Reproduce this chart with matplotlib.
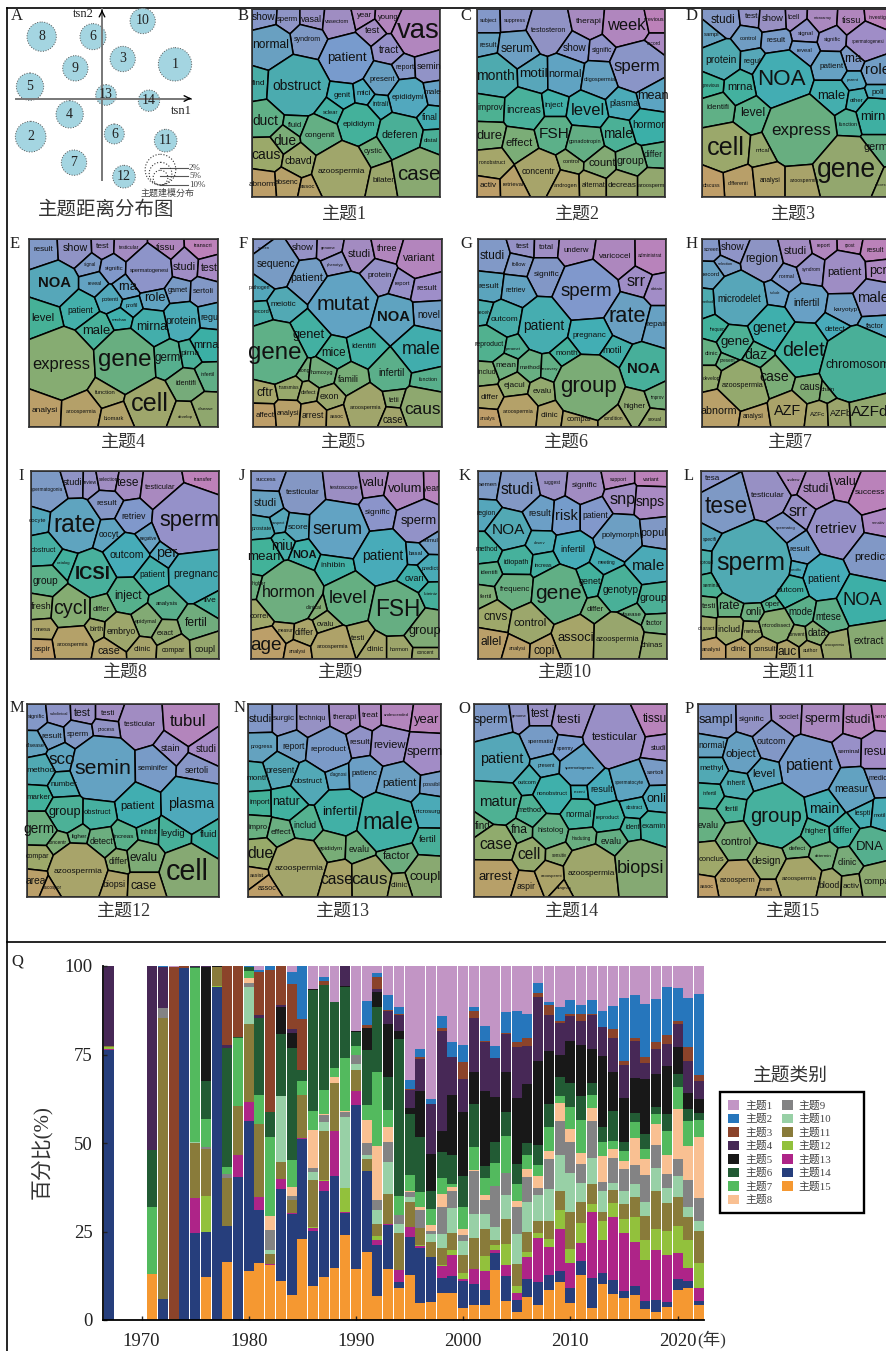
import numpy as np
import matplotlib
matplotlib.use("Agg")
import matplotlib.pyplot as plt
from matplotlib.font_manager import FontProperties
from matplotlib.patches import Circle, Patch, Rectangle
from matplotlib.textpath import TextPath

SERIF = ['Liberation Serif', 'Noto Sans CJK SC']
plt.rcParams['font.family'] = SERIF

# topic map (panel A): x, y, radius read at 3x zoom
bubble_names = ["1", "2", "3", "4", "5", "6", "6", "7", "8", "9", "10", "11", "12", "13", "14"]
bubble_x = [525, 92, 368, 209, 90, 279, 343, 222, 125, 226, 428, 497, 372, 318, 447]
bubble_y = [193, 410, 177, 343, 260, 110, 402, 488, 110, 205, 63, 422, 530, 285, 302]
bubble_r = [50, 46, 38, 41, 41, 39, 30, 38, 44, 38, 38, 34, 34, 31, 32]
size_names = ["2%", "5%", "10%"]
size_r = [22, 34, 46]

# word cells: word, x, y, text width, read at 3x zoom inside each box
box_b = (35, 27, 600, 590)
words_b = [("show",70,52,70),("sperm",142,57,62),("vasal",215,57,60),("vasectom",292,65,72),("year",372,47,45),("young",445,52,60),("vas",535,92,125),("test",398,90,45),("syndrom",200,118,78),("normal",90,135,105),("patient",320,175,115),("tract",447,150,60),("report",495,203,55),("semin",566,200,72),("present",427,238,75),("find",56,250,38),("obstruct",170,257,145),("genit",307,287,50),("mici",372,280,40),("epididymi",505,293,95),("male",578,277,50),("intrali",420,314,45),("duct",75,362,75),("sclear",272,336,45),("fluid",165,377,40),("epididym",355,372,95),("final",570,352,45),("deferen",480,403,105),("distal",574,422,40),("due",133,422,65),("congenit",240,407,90),("cystic",400,455,55),("caus",77,465,85),("cbavd",175,482,80),("azoospermia",302,513,140),("bilater",430,540,65),("case",535,522,125),("abnorm",65,552,80),("absenc",140,547,70),("assoc",203,560,45)]
box_c = (20, 27, 585, 590)
words_c = [("subject",55,62,50),("suppress",133,60,65),("testosteron",235,90,105),("therapi",355,65,75),("week",468,75,115),("previous",552,58,60),("result",55,135,50),("serum",140,147,95),("show",313,145,70),("signific",395,152,60),("sperm",500,200,135),("record",552,130,40),("month",75,227,110),("motil",190,223,80),("normal",285,222,95),("oligospermia",390,238,95),("mean",548,288,90),("improv",60,323,75),("increas",160,328,100),("inject",252,316,55),("level",353,332,95),("plasma",462,310,85),("dure",57,407,75),("effect",147,427,80),("FSH",252,400,85),("gonadotropin",345,425,95),("male",445,402,85),("hormor",535,375,95),("differ",550,463,55),("concentr",205,515,100),("control",303,483,50),("count",395,487,80),("group",480,483,80),("nonobstruct",65,488,80),("activ",55,555,50),("retrieval",130,553,60),("androgen",285,557,70),("alternat",370,555,70),("decreas",457,555,85),("azoosperm",545,555,80)]
box_d = (697, 27, 1261, 590)
words_d = [("studi",760,60,70),("test",845,50,40),("show",908,55,65),("tcell",972,52,35),("microarray",1060,55,55),("tissu",1145,60,55),("investig",1225,52,50),("sampl",725,103,45),("control",835,115,50),("signal",1008,100,45),("signific",1087,118,50),("spermatogenesi",1195,125,95),("protein",755,180,90),("regul",847,183,50),("result",918,122,55),("reveal",1005,150,45),("rna",1150,178,50),("role",1225,210,70),("patient",1085,200,70),("parent",1150,240,35),("NOA",935,238,140),("mrna",812,262,75),("previous",725,255,50),("male",1085,287,80),("level",848,337,70),("identifi",745,322,65),("mirna",1220,350,95),("other",1160,300,40),("poll",1225,277,35),("function",1137,372,55),("express",993,392,175),("cell",768,442,105),("mical",880,452,40),("germ",1220,440,70),("gene",1130,510,170),("differenti",805,550,60),("analysi",900,540,60),("azoospermia",1005,540,85),("discuss",725,555,50),("process",1235,555,40)]
box_e = (87, 27, 655, 590)
words_e = [("result",130,58,58),("show",225,53,75),("test",307,50,40),("testicular",387,53,60),("tissu",498,52,55),("transcri",610,47,55),("signal",270,102,35),("signific",342,116,55),("spermatogenesi",448,120,115),("studi",553,110,65),("test",628,115,50),("NOA",165,160,95),("reveal",285,160,40),("rna",382,170,55),("gamet",535,180,60),("sertoli",610,183,60),("patient",242,240,75),("potenti",330,207,50),("role",465,205,60),("profil",395,226,35),("protein",545,272,90),("regu",628,262,50),("level",130,265,65),("male",290,303,80),("mechan",360,270,45),("mirna",455,292,90),("mrna",620,343,75),("express",183,402,170),("gene",375,390,155),("germ",503,382,75),("pirna",570,370,55),("infertil",623,432,40),("identifi",560,460,60),("function",317,488,60),("cell",450,520,105),("develop",557,560,45),("disease",618,537,45),("analysi",133,540,75),("azoospermia",243,545,90),("biomark",343,565,60)]
box_f = (760, 27, 1327, 590)
words_f = [("screen",793,53,35),("show",908,52,65),("genome",985,55,45),("studi",1078,72,65),("three",1162,55,60),("variant",1258,83,95),("sequenc",830,103,115),("patient",920,145,95),("phenotyp",1007,105,50),("protein",1140,135,70),("report",1208,160,45),("result",1282,175,60),("pathogen",780,173,60),("mutat",1032,222,155),("meiotic",852,223,75),("novel",1287,255,65),("record",785,245,45),("NOA",1180,262,95),("genet",928,315,95),("gene",825,367,155),("mice",1002,368,70),("identifi",1093,350,70),("male",1265,357,110),("infertil",1175,428,75),("function",1285,447,55),("clong",912,422,35),("homozyg",967,428,65),("famili",1047,447,60),("cftr",797,487,48),("transmiss",868,472,60),("defect",925,488,45),("exon",990,500,55),("azoospermia",1097,533,95),("tetii",1185,512,30),("caus",1268,537,105),("case",1180,568,60),("affect",795,556,55),("analysi",865,550,65),("arrest",938,556,65),("assoc",1010,558,40)]
box_g = (85, 27, 648, 590)
words_g = [("studi",128,77,72),("test",218,50,40),("total",290,52,42),("underw",378,60,75),("varicocel",497,78,95),("administrat",600,77,70),("follow",207,102,42),("signific",290,132,75),("sperm",410,183,150),("srr",560,155,55),("obtain",620,178,35),("result",118,170,60),("retriev",198,180,60),("rate",532,260,105),("repair",620,283,60),("receiv",105,248,40),("outcom",163,267,80),("patient",283,288,120),("pregnanc",420,317,100),("reproduct",118,342,85),("paramet",190,355,45),("month",352,370,65),("motil",487,362,55),("NOA",580,415,95),("includ",112,428,52),("mean",168,407,60),("method",240,412,60),("recovery",302,415,50),("ejacul",195,465,62),("evalu",276,483,55),("group",415,470,165),("differ",120,502,52),("higher",553,528,65),("improv",622,503,40),("analys",115,565,45),("azoospermia",205,545,90),("clinic",300,555,52),("compar",387,567,75),("condition",492,565,55),("sexual",615,567,40)]
box_h = (757, 27, 1321, 590)
words_h = [("screen",787,58,45),("show",850,52,70),("region",937,87,95),("studi",1037,63,65),("report",1122,47,40),("rpost",1200,45,30),("result",1278,60,50),("selection",828,102,45),("record",785,132,50),("normal",1010,140,45),("syndrom",1085,117,55),("patient",1185,127,100),("pcr",1285,122,50),("microdelet",870,208,130),("include",975,190,30),("infertil",1070,218,75),("karyotyp",1187,237,70),("male",1270,205,90),("method",775,215,35),("frequen",805,298,45),("genet",960,293,100),("detect",1155,297,60),("factor",1275,288,55),("gene",858,335,85),("clinic",785,370,40),("daz",920,375,65),("delet",1062,362,125),("present",835,392,45),("case",975,440,85),("chromosom",1225,405,190),("develop",785,445,50),("azoospermia",880,467,125),("caus",1080,470,60),("chain",1135,478,40),("abnorm",807,542,105),("analysi",910,558,60),("AZF",1015,542,80),("AZFc",1105,553,45),("AZFb",1175,550,65),("AZFd",1260,545,110)]
box_i = (92, 33, 658, 597)
words_i = [("spermatogonia",140,90,95),("studi",218,67,55),("review",270,68,40),("selection",325,58,55),("tese",385,70,65),("testicular",480,82,90),("transfer",612,58,55),("oocyte",112,183,50),("rate",222,195,120),("result",320,130,60),("retriev",400,170,70),("sperm",568,183,175),("oocyt",327,225,60),("negative",445,236,50),("obstruct",130,272,75),("outcom",380,285,100),("per",500,280,60),("catalog",190,310,40),("patient",457,345,75),("pregnanc",587,342,130),("ICSI",277,343,100),("group",135,362,75),("inject",383,408,80),("live",630,423,35),("fresh",122,440,60),("cycl",210,447,95),("differ",305,448,50),("analysis",500,430,65),("fertil",590,490,65),("epidymal",437,485,65),("embryo",363,515,85),("birth",290,510,40),("exact",497,520,50),("mnesa",127,508,50),("azoospermia",218,553,95),("case",325,573,65),("clinic",427,568,50),("compar",522,573,70),("coupl",615,568,60),("aspir",125,568,50)]
box_j = (752, 33, 1317, 597)
words_j = [("success",798,58,60),("testicular",907,98,100),("testoscope",1032,83,85),("valu",1120,68,65),("volum",1215,87,100),("year",1295,85,50),("studi",795,130,65),("signific",1133,157,75),("sperm",1255,182,105),("suspect",835,190,40),("score",895,203,60),("serum",1012,208,145),("prostate",783,207,60),("mean",790,290,95),("miu",845,258,60),("NOA",912,285,70),("inhibin",997,318,70),("patient",1147,288,120),("basal",1248,280,40),("stimul",1292,243,45),("predict",1290,326,50),("ovari",1243,357,55),("higher",775,372,40),("hormon",867,397,155),("level",1045,417,110),("FSH",1192,448,125),("luteiniz",1292,402,40),("correl",778,470,55),("clinical",942,443,45),("ovalu",975,493,50),("group",1275,512,95),("measur",855,513,45),("differ",913,517,55),("testi",1075,537,40),("age",797,558,90),("analysi",890,575,50),("azoospermia",997,560,95),("clinic",1125,570,50),("hormon",1197,570,55),("concent",1275,578,50)]
box_k = (85, 33, 650, 597)
words_k = [("semen",115,75,55),("studi",203,90,95),("suggest",307,68,50),("signific",403,78,75),("support",505,58,50),("variant",602,58,50),("snp",518,118,75),("snps",600,125,85),("region",110,162,55),("result",270,162,65),("risk",350,168,65),("patient",437,168,75),("NOA",175,210,96),("polymorph",512,228,110),("popul",610,218,75),("observ",268,250,35),("infertil",370,270,70),("method",110,270,65),("idiopath",198,307,75),("increas",280,317,50),("meeting",470,308,50),("male",595,317,95),("identifi",118,338,50),("genet",420,365,65),("frequenc",197,390,90),("gene",325,402,135),("genotyp",510,390,105),("fertil",108,410,35),("group",608,415,80),("differ",437,450,50),("cnvs",138,470,70),("control",240,488,95),("disease",543,463,60),("factor",612,490,50),("allel",125,545,60),("associ",378,535,105),("azoospermia",502,538,130),("chinas",605,558,65),("analysi",202,567,50),("copi",283,572,60)]
box_l = (753, 33, 1317, 597)
words_l = [("tesa",787,57,45),("tese",830,140,125),("testicular",952,107,100),("underw",1030,60,40),("studi",1097,87,75),("valu",1187,67,65),("success",1260,97,90),("srr",1045,155,55),("spermatog",1007,205,60),("retriev",1158,207,120),("sensitiv",1285,188,40),("specifi",780,238,40),("result",1050,270,60),("predict",1265,290,100),("sperm",903,310,200),("sproud",770,307,40),("specific",1037,330,40),("patient",1120,358,95),("outcom",1022,393,80),("seminal",785,377,50),("rate",838,437,60),("onli",910,455,45),("oper",968,433,45),("NOA",1238,423,115),("mode",1053,455,70),("mtese",1135,470,75),("testi",778,440,40),("charact",770,507,50),("includ",838,508,65),("method",908,516,50),("microdissect",980,497,85),("convent",1040,525,50),("data",1100,518,55),("azoospermia",1155,556,60),("extract",1257,543,90),("analysi",785,570,55),("clinic",865,570,45),("consult",945,570,65),("auc",1010,575,55),("author",1080,572,45)]
box_m = (80, 28, 657, 605)
words_m = [("signific",107,65,50),("subclinical",175,58,55),("test",245,55,50),("testi",323,55,40),("testicular",420,90,95),("tubul",565,80,105),("sperm",232,118,65),("process",317,105,50),("result",155,125,60),("stain",512,160,55),("studi",620,162,60),("disease",105,152,55),("sco",185,193,75),("semin",307,222,165),("seminifer",458,220,90),("sertoli",590,228,70),("method",120,228,80),("number",190,270,80),("marker",115,307,70),("patient",412,332,100),("plasma",572,328,135),("group",195,352,95),("obstruct",292,353,80),("germ",115,402,90),("ligher",237,423,45),("increas",370,425,60),("inhibit",448,413,50),("leydig",517,415,70),("fluid",625,418,50),("concentr",170,443,55),("detect",305,440,70),("compar",113,485,70),("differ",355,498,55),("evalu",430,487,80),("azoospermia",233,530,145),("cell",560,530,120),("biopsi",342,568,65),("case",430,572,75),("area",105,557,60),("ascospor",155,578,55)]
box_n = (745, 28, 1323, 605)
words_n = [("studi",783,72,65),("surgic",853,72,65),("techniqu",938,72,80),("therapi",1035,67,70),("treat",1112,63,50),("undescended",1190,62,75),("year",1280,75,75),("progress",785,155,65),("report",880,155,65),("reproduct",985,165,105),("result",1080,142,60),("review",1170,150,95),("sperm",1275,172,105),("present",842,228,85),("obstruct",925,260,85),("diagnosi",1015,240,50),("patienc",1095,237,75),("patient",1198,265,100),("month",775,250,65),("possibl",1295,270,50),("natur",860,322,80),("import",780,323,60),("infertil",1020,352,100),("male",1165,382,145),("microsurg",1283,348,80),("includ",915,390,65),("impro",775,397,55),("effect",842,413,60),("fertil",1282,433,50),("due",782,475,75),("epididym",992,460,70),("evalu",1077,463,60),("factor",1190,482,80),("azoospermia",897,520,145),("case",1010,553,95),("caus",1110,552,105),("coupl",1275,545,90),("clinic",1197,570,50),("assist",772,540,40),("assoc",802,580,55)]
box_o = (73, 28, 652, 605)
words_o = [("sperm",125,75,100),("genome",208,63,45),("test",272,58,55),("testi",357,75,70),("testicular",495,127,135),("tissu",615,72,70),("spermatid",272,140,75),("spermy",347,160,50),("studi",627,160,45),("patient",155,192,125),("present",290,212,50),("spermatogenes",390,218,90),("sertoli",618,232,50),("outcom",233,262,55),("nonobstruct",308,297,90),("recent",390,292,35),("result",455,285,65),("spermatocyte",540,263,85),("onli",620,313,55),("matur",147,322,110),("method",240,347,70),("normal",388,357,75),("reproduct",475,367,70),("abstract",555,338,50),("find",100,392,45),("fna",208,405,50),("histolog",302,407,75),("hisduting",395,430,55),("identi",550,398,45),("examin",612,395,70),("evalu",485,440,60),("case",138,447,95),("cell",238,477,65),("sensitiv",328,480,45),("azoospermia",425,535,140),("biopsi",572,520,135),("arrest",137,545,100),("aspir",230,573,55),("azoospermi",307,543,65),("diagnos",345,578,45)]
box_p = (745, 28, 1322, 605)
words_p = [("sampl",798,75,100),("signific",907,73,75),("societ",1018,67,60),("sperm",1120,72,105),("studi",1225,75,75),("serv",1295,65,35),("normal",785,152,75),("object",875,177,90),("outcom",965,140,85),("seminal",1198,170,65),("result",1285,172,85),("patient",1082,212,140),("methyl",785,220,70),("level",942,237,65),("measur",1205,282,100),("medic",1285,252,55),("infertil",780,297,40),("inherit",860,267,55),("fertil",848,343,40),("group",980,365,150),("main",1125,342,85),("lespti",1240,355,45),("motil",1290,360,35),("evalu",775,392,60),("higher",1097,410,65),("differ",1180,405,60),("control",860,442,90),("DNA",1260,455,80),("defect",1042,460,50),("determin",1120,482,50),("conclus",785,492,75),("clinic",1195,503,55),("design",950,498,85),("azoosperm",865,557,105),("azoospermia",1050,550,105),("assoc",772,575,40),("stream",950,582,40),("blood",1140,570,60),("activ",1205,573,50),("compar",1285,560,85)]

# yearly shares (%), stacked bottom to top: topics 15, 14, ... 1
years = [1967] + list(range(1971, 2023))
y1967 = [0,76.4,.2,.4,.5,0,0,0,0,0,0,22.5,0,0,0]
y1971 = [12.9,0,0,0,0,0,0,0,19.1,16.1,0,51.9,0,0,0]
y1972 = [0,5.8,.2,0,79.5,0,2.6,0,.2,0,0,11.5,0,.3,0]
y1973 = [0,0,0,0,.2,0,0,0,0,0,0,0,99.6,0,.2]
y1974 = [0,99.4,0,0,0,0,0,0,0,0,0,0,.5,.1,0]
y1975 = [0,24.5,10,0,15.6,.2,0,0,49,.4,0,.3,0,0,0]
y1976 = [12.2,12.6,0,10.1,13.3,0,.6,0,7.8,10.7,32,.4,0,0,0]
y1977 = [0,94.1,0,.3,5.2,0,0,0,0,0,.3,0,0,.1,0]
y1978 = [16.5,10.1,0,0,13.4,0,1.2,0,1.9,33.7,0,1,22.1,.1,0]
y1979 = [0,40.3,6.4,0,13.7,0,0,0,19.3,.2,0,0,20,.1,0]
y1980 = [13.9,42.2,5.5,0,21.9,10.7,1.1,1.4,1.9,1.2,0,0,0,.2,0]
y1981 = [16,15,3.7,0,20.6,0,0,0,8.3,21.7,0,.8,12.1,.6,1.1]
y1982 = [15.6,0,.2,0,2.7,1.1,5.9,3.7,22.5,6.9,0,0,40,1.2,0]
y1983 = [10.9,26.2,2.6,0,5,18.6,0,0,0,17.6,7.5,.5,11.1,0,0]
y1984 = [7.1,22.7,.3,0,3.9,0,1.1,2.5,7.6,31.7,4.1,1.2,12.5,3.4,1.8]
y1985 = [22.9,28.3,.2,0,12.3,0,0,0,3.8,3,0,0,14.4,15.1,0]
y1986 = [9.6,15.6,.9,.3,13.1,2.2,1.2,10.9,5.3,34.1,.2,0,0,0,6.6]
y1987 = [12.2,24.3,2.8,.2,13.7,2.8,1.8,.4,6.6,29.7,0,0,1.1,1.2,3.1]
y1988 = [14.8,25.7,12.8,0,13.5,0,0,1.7,2.6,18.5,.2,0,0,0,10.1]
y1989 = [24,6.2,.2,7,0,20,1.3,.3,15,20,.3,5.6,0,.1,0]
y1990 = [14.5,46.1,4,0,5.9,1.7,2.5,0,2.6,3.8,.3,0,0,0,18.4]
y1991 = [19.3,22.7,.2,0,3.2,1.3,3.4,6.5,4.2,15.6,6.2,0,.7,6.9,9.8]
y1992 = [6.8,14.4,1.5,1.1,3.4,3.9,2.9,15.2,20.9,18.4,4.2,.8,3.5,.9,2.1]
y1993 = [14.5,12.3,.2,0,8.7,8.8,5.9,4,5,9.2,15,3.8,.3,4.2,8.1]
y1994 = [8.9,1.9,3.4,0,10.4,2.6,2.6,0,5.1,44.6,2.2,4.4,.3,2.1,11.5]
y1995 = [12.7,10.7,2.8,.2,7,1.4,1.4,.2,4.5,17.2,1.7,5.3,.2,2.6,32.1]
y1996 = [4.9,15.3,.8,.2,4.7,0,5.2,.9,4.2,15.6,12.9,8.9,.7,2.2,23.5]
y1997 = [5.2,12.5,0,.2,4.2,2.2,.8,1.6,4.7,5.1,10.5,13.9,0,1.4,37.7]
y1998 = [7.6,4.4,3.3,.2,4.8,3.9,7.8,3.5,4.7,7.3,5.9,28.3,.7,3.6,14]
y1999 = [7.7,4.7,5.9,1.6,4.7,7.1,4.7,1.1,1,8,17,10.9,0,4.2,21.4]
y2000 = [3.4,7.6,.5,1.7,5.1,4.1,1.7,1.6,6.1,9,17.9,9.3,4.9,4.9,22.2]
y2001 = [4.2,6,4.1,.2,8.8,6.6,12.3,.2,6.4,12.1,9.2,15.1,2.2,.9,11.7]
y2002 = [4.2,4.4,5.2,4.4,7.6,4.2,3.9,1.4,4.7,3.5,21.2,13.8,.3,4.2,17]
y2003 = [14.1,4.7,.9,1.5,1.5,3.7,11.5,0,6.4,6,12.6,11,0,3.6,22.5]
y2004 = [5.4,7.1,3.1,5.8,7.2,6.6,6.3,0,10.4,6.8,11.4,10.7,.3,5.8,13.1]
y2005 = [2.3,3.4,1.9,2.1,6.1,8.5,7.6,1.6,4.8,5.7,18.8,14.2,1.4,9,12.6]
y2006 = [6.6,4.9,6.4,1.3,5.8,8.4,7.1,2.2,3.8,3.6,16.6,10.7,2.2,6.9,13.5]
y2007 = [4.2,6.5,12.4,1.6,3.4,7.3,2,3.4,3,5.5,23.8,18.2,1.2,2.7,4.8]
y2008 = [8.5,4.2,7.8,2.5,5.1,8.9,8.5,2.1,6.9,6.6,14.8,10.2,3,.8,10.1]
y2009 = [10.6,3.3,11.8,5.4,5.2,10.2,9.7,5.1,2.1,5.2,6.4,9,.6,3.7,11.7]
y2010 = [4.9,4,7.2,4,10.4,10.9,8.8,3.8,6.3,6.7,11.7,7.1,.5,4.2,9.5]
y2011 = [12.7,4.1,4.9,5.8,5.9,5.4,5.3,3,9.3,6.8,14.6,6.8,1.7,2.8,10.9]
y2012 = [3.5,8.5,18.6,2.2,5.6,7.5,10.3,3.8,3.5,3.5,9.6,9.6,.2,4.1,9.5]
y2013 = [10.3,3.1,9.3,5.3,2.4,6,2.6,7.4,3.8,4.2,20.1,8.2,0,4.7,12.6]
y2014 = [7.4,3.9,17.7,4.1,3.7,1.9,7,2.5,2.5,8.2,11.1,9.7,2.6,6.3,11.4]
y2015 = [6.1,2.1,16.3,4,4.2,3.7,6.2,2.4,2.6,2.7,12.4,9.2,1.4,17.8,8.9]
y2016 = [7.1,2.5,12.3,7.1,5.7,3.7,5.3,7.6,4.7,2.5,9.9,10.4,.8,12.1,8.3]
y2017 = [3.2,2.2,11.6,5.7,6.6,4,7.7,4.5,2.8,4.3,15.5,4.4,1.7,15.1,10.7]
y2018 = [2.3,3.4,14.1,5.8,10.8,6.6,6.4,5.9,2.8,2.1,9.4,6.9,1.9,12.3,9.3]
y2019 = [3.8,1.4,13.1,6.9,7.8,4.2,4.1,5.2,6.9,4.8,13.6,6.1,2.5,13.7,5.9]
y2020 = [8.5,3,7.4,7.6,8.2,5.9,5,13.9,6.2,3.8,7.5,6.7,.8,9.4,6.1]
y2021 = [8.9,2.2,3.6,8,6.5,2.6,7.7,9.7,6.9,3.5,4.5,9.2,3.8,14,8.9]
y2022 = [4.2,1.3,3.6,6.9,9.2,2.7,6.7,17,4.9,1.9,4.1,4.9,1.7,23.1,7.8]

topic_colors = ['#C295C5', '#2676BC', '#8B432A', '#472856', '#181818', '#225B34', '#53BA5E', '#F9C092',
                '#838384', '#98D0A6', '#897B3A', '#92C13C', '#AE2488', '#263E7C', '#F59831']

W, H = 886, 1351
fig = plt.figure(figsize=(W / 100, H / 100), dpi=100)


def px_axes(x0, y0, x1, y1):
    return fig.add_axes([x0 / W, 1 - y1 / H, (x1 - x0) / W, (y1 - y0) / H])


bg = px_axes(0, 0, W, H)
bg.set_xlim(0, W)
bg.set_ylim(H, 0)
bg.axis('off')

# frame lines
bg.plot([7.5, W], [7.5, 7.5], color='k', lw=1.2)
bg.plot([7.5, 7.5], [7.5, H], color='k', lw=1.2)
bg.plot([7.5, W], [942, 942], color='k', lw=1.2)

# panel A
for name, x, y, r in zip(bubble_names, bubble_x, bubble_y, bubble_r):
    bg.add_patch(Circle((x / 3, y / 3), r / 3, fc='#A4D5E1', ec='#555555', lw=0.7, ls=':', zorder=2))
    bg.text(x / 3, y / 3, name, ha='center', va='center', fontsize=10, color='#222222', zorder=4)
bg.plot([16, 191], [98.5, 98.5], color='#777777', lw=1.4, zorder=3)
bg.plot([102, 102], [180, 9], color='#777777', lw=1.4, zorder=3)
bg.annotate('', xy=(194, 98.5), xytext=(186, 98.5), arrowprops=dict(arrowstyle='->', color='k', lw=1))
bg.annotate('', xy=(102, 7), xytext=(102, 15), arrowprops=dict(arrowstyle='->', color='k', lw=1))
bg.text(181, 111, 'tsn1', ha='center', va='center', fontsize=9, color='#222222')
bg.text(83, 14, 'tsn2', ha='center', va='center', fontsize=9, color='#222222')
for name, r, ly in zip(size_names, size_r, [168, 176, 185]):
    bg.add_patch(Circle((160.5, (555 - r) / 3), r / 3, fc='none', ec='#333333', lw=0.8, ls=':', zorder=5))
    bg.plot([160.5, 188], [ly, ly], color='#555555', lw=0.8)
    bg.text(189, ly, name, ha='left', va='center', fontsize=6.5, color='#444444')
bg.text(168, 193.5, '主题建模分布', ha='center', va='center', fontsize=6.5, color='#444444')
bg.text(106, 210, '主题距离分布图', ha='center', va='center', fontsize=14, color='#333333')

# panel letters
letters = list("ABCDEFGHIJKLMNOPQ")
letter_x = [17, 243, 466, 692, 15, 243, 466, 692, 21, 242, 465, 689, 17, 240, 464, 689, 17]
letter_y = [16, 16, 16, 16, 244, 244, 244, 244, 476, 476, 476, 476, 708, 708, 709, 709, 962]
for s, x, y in zip(letters, letter_x, letter_y):
    bg.text(x, y, s, ha='center', va='center', fontsize=12, color='#222222')

# colour field across each word cell panel, top row to bottom row, left/mid/right
field_y = [0, 0.2, 0.4, 0.55, 0.7, 0.85, 1]
field_rgb = np.array([
    [[140, 150, 205], [175, 135, 190], [198, 125, 180]],
    [[80, 168, 185], [120, 155, 205], [165, 140, 200]],
    [[65, 178, 150], [60, 175, 180], [90, 165, 195]],
    [[110, 175, 125], [70, 178, 150], [55, 175, 170]],
    [[155, 170, 105], [125, 172, 115], [85, 175, 140]],
    [[185, 160, 105], [165, 165, 105], [130, 170, 115]],
    [[198, 155, 105], [178, 160, 105], [155, 165, 105]]]) / 255
# how far the blue part of the field reaches down in each panel
field_shift = [.08, .08, 0, 0, .08, .1, .08, .08, .05, .05, .18, .1, .1, .05, .1]


def field_color(x, y, shift):
    y = y - shift * 4 * y * (1 - y)
    n = len(field_y)
    mid = [np.interp(x, [0, 0.5, 1], field_rgb[i, :, c]) for i in range(n) for c in range(3)]
    mid = np.array(mid).reshape(n, 3)
    return [float(np.interp(y, field_y, mid[:, c])) for c in range(3)]


def clip_half(poly, a, b, c):
    out = []
    for k in range(len(poly)):
        p, q = poly[k], poly[(k + 1) % len(poly)]
        fp, fq = a * p[0] + b * p[1] - c, a * q[0] + b * q[1] - c
        if fp <= 0:
            out.append(p)
        if fp * fq < 0:
            t = fp / (fp - fq)
            out.append((p[0] + t * (q[0] - p[0]), p[1] + t * (q[1] - p[1])))
    return out


def power_cell(i, xs, ys, rs):
    poly = [(0, 0), (1, 0), (1, 1), (0, 1)]
    for j in range(len(xs)):
        if j == i or not poly:
            continue
        a, b = 2 * (xs[j] - xs[i]), 2 * (ys[j] - ys[i])
        c = xs[j] ** 2 + ys[j] ** 2 - rs[j] ** 2 - xs[i] ** 2 - ys[i] ** 2 + rs[i] ** 2
        poly = clip_half(poly, a, b, c)
    return poly


word_font = FontProperties(family='Liberation Sans')
bold_font = FontProperties(family='Liberation Sans', weight='bold')


def draw_words(ax, words, box, shift):
    x0, y0, x1, y1 = box
    span = x1 - x0
    xs = [(w[1] - x0) / span for w in words]
    ys = [(w[2] - y0) / (y1 - y0) for w in words]
    rs = [0.6 * w[3] / span for w in words]
    for i, w in enumerate(words):
        poly = power_cell(i, xs, ys, rs)
        if poly:
            ax.fill([p[0] for p in poly], [p[1] for p in poly], fc=field_color(xs[i], ys[i], shift),
                    ec='k', lw=1.1, joinstyle='round')
        bold = (w[0] == 'NOA' and w[3] < 96) or w[0] == 'ICSI'
        prop = bold_font if bold else word_font
        extent = TextPath((0, 0), w[0], size=10, prop=prop).get_extents().width
        fs = (w[3] / 3) * 0.72 * 10 / extent
        ax.text(xs[i], ys[i], w[0], ha='center', va='center', fontsize=fs, color='#111111',
                family='Liberation Sans', weight='bold' if bold else 'normal', clip_on=False, zorder=5)
    ax.set_xlim(0, 1)
    ax.set_ylim(1, 0)
    ax.set_xticks([])
    ax.set_yticks([])
    for s in ax.spines.values():
        s.set_linewidth(1.2)
        s.set_color('#333333')


panel_words = [words_b, words_c, words_d, words_e, words_f, words_g, words_h, words_i,
               words_j, words_k, words_l, words_m, words_n, words_o, words_p]
panel_boxes = [box_b, box_c, box_d, box_e, box_f, box_g, box_h, box_i,
               box_j, box_k, box_l, box_m, box_n, box_o, box_p]
panel_x0 = [252, 477, 702, 29, 253, 478, 702, 31, 251, 478, 701, 27, 248, 474, 698]
panel_x1 = [440, 665, 890, 218, 442, 666, 890, 219, 439, 667, 889, 219, 441, 667, 890]
panel_y0 = [9, 9, 9, 239, 239, 239, 239, 471, 471, 471, 471, 704, 704, 704, 704]
panel_y1 = [197, 197, 197, 427, 427, 427, 427, 659, 659, 659, 659, 897, 897, 897, 897]
title_x = [345, 577, 793, 123, 343, 566, 790, 125, 340, 565, 789, 124, 343, 572, 793]
title_y = [215, 215, 215, 443, 443, 443, 443, 673, 673, 673, 673, 912, 912, 912, 912]

for i in range(15):
    ax = px_axes(panel_x0[i], panel_y0[i], panel_x1[i], panel_y1[i])
    draw_words(ax, panel_words[i], panel_boxes[i], field_shift[i])
    bg.text(title_x[i], title_y[i], '主题%d' % (i + 1), ha='center', va='center', fontsize=13, color='#333333')

# panel Q stacked bars
rows = [y1967, y1971, y1972, y1973, y1974, y1975, y1976, y1977, y1978, y1979, y1980, y1981, y1982,
        y1983, y1984, y1985, y1986, y1987, y1988, y1989, y1990, y1991, y1992, y1993, y1994, y1995,
        y1996, y1997, y1998, y1999, y2000, y2001, y2002, y2003, y2004, y2005, y2006, y2007, y2008,
        y2009, y2010, y2011, y2012, y2013, y2014, y2015, y2016, y2017, y2018, y2019, y2020, y2021, y2022]
shares = np.array(rows, dtype=float)
shares = shares / shares.sum(axis=1, keepdims=True) * 100

ax = px_axes(102.5, 966, 703.5, 1320)
bottom = np.zeros(len(years))
for k in range(15):
    ax.bar(years, shares[:, k], bottom=bottom, width=0.93, color=topic_colors[14 - k], lw=0)
    bottom += shares[:, k]
ax.set_xlim(1966.36, 2022.42)
ax.set_ylim(0, 100)
ax.set_xticks([1970, 1980, 1990, 2000, 2010, 2020])
ax.set_yticks([0, 25, 50, 75, 100])
ax.tick_params(direction='in', length=3, width=1, labelsize=13.5, pad=7, colors='#222222')
ax.tick_params(axis='x', pad=9)
ax.spines['top'].set_visible(False)
ax.spines['right'].set_visible(False)
ax.spines['left'].set_linewidth(1.3)
ax.spines['bottom'].set_linewidth(1.3)
bg.text(41, 1152, '百分比(%)', rotation=90, ha='center', va='center', fontsize=15, color='#333333')
bg.text(712, 1339, '(年)', ha='center', va='center', fontsize=12.5, color='#333333')

# legend
handles = [Patch(fc=topic_colors[i], ec='none', label='主题%d' % (i + 1)) for i in range(15)]
bg.text(790, 1077, '主题类别', ha='center', va='center', fontsize=13.5, color='#333333')
bg.add_patch(Rectangle((720, 1092), 144, 121, fc='none', ec='k', lw=1.7))
leg = fig.legend(handles=handles, ncol=2, loc='upper left', bbox_to_anchor=(720 / W, 1 - 1092 / H),
                 borderaxespad=0, fontsize=7.8, handlelength=1, handleheight=1, handletextpad=0.55,
                 labelspacing=0.27, columnspacing=0.9, borderpad=0.75, frameon=False, labelcolor='#444444')

fig.savefig('out.png', dpi=100)
